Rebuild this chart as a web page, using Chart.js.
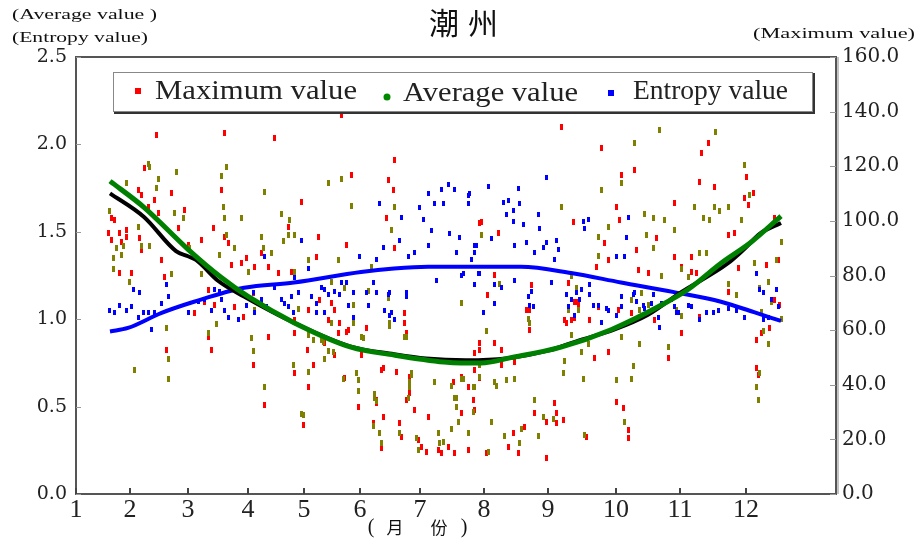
<!DOCTYPE html>
<html>
<head>
<meta charset="utf-8">
<title>潮州</title>
<script src="https://cdn.jsdelivr.net/npm/chart.js@4.4.0/dist/chart.umd.min.js"></script>
<style>
  html, body { margin: 0; padding: 0; background: #fff; }
  #wrap { width: 920px; height: 545px; }
</style>
</head>
<body>
<div id="wrap"><canvas id="chart" width="920" height="545"></canvas></div>
<script>
// x is a day index (0..380); ticks sit at the start of each month
const monthStarts = [0, 27, 56, 86, 114, 142, 172, 204, 236, 270, 302, 335];
const monthLabels = ['1', '2', '3', '4', '5', '6', '7', '8', '9', '10', '11', '12'];

// daily maximum (right axis)
const maxValue = [
  [16,95.6],[17.5,101.1],[17.5,93.0],[19,100.3],[21.5,95.6],[22.5,92.3],[25,96.7],[25,94.1],[31,111.3],[32.5,109.5],
  [34,119.4],[36,105.1],[39,107.7],[40,131.5],[41,102.9],[47.5,110.2],[42.5,85.7],[44,79.5],[27.5,80.9],[21.5,80.9],
  [32.5,89.4],[31.5,93.7],[56,91.2],[54,104.0],[51,97.4],[62.5,93.0],[68.5,97.4],[74,132.2],[72.5,111.3],[74,94.1],
  [76,91.9],[77.5,83.9],[82.5,84.6],[85,86.4],[89,83.1],[92.5,88.3],[96,83.1],[99,130.4],[106,97.8],[112.5,106.9],
  [66,74.7],[64,70.3],[59,66.3],[69,69.2],[79,68.5],[83.5,64.8],[88.5,73.6],[92.5,69.9],[96,57.5],[101,80.9],
  [107.5,81.3],[109,63.7],[116,67.4],[121,94.1],[120,86.8],[121.5,71.0],[126,63.7],[129,67.4],[131,59.0],[135,91.2],
  [137.5,116.8],[136,60.1],[145,60.8],[155,101.1],[156,115.0],[158.5,111.3],[159,122.3],[159,90.1],[164,66.3],[164,62.6],
  [201.5,99.2],[201.5,52.7],[109,44.3],[115.5,52.7],[116,39.2],[94,32.6],[88.5,47.2],[66,57.5],[67.5,52.7],[45,52.7],
  [141,31.9],[150,33.3],[165,34.4],[176,28.2],[192.5,42.8],[192.5,29.7],[153.5,46.1],[160,44.7],[134,42.5],[166.5,42.8],
  [109,59.0],[118.5,47.2],[113.5,25.3],[124,55.3],[127.5,69.9],[131.5,62.6],[135,59.3],[129,50.9],[142.5,50.9],[152.5,45.4],
  [153.5,28.2],[152.5,16.8],[150,34.4],[148.5,26.0],[161.5,26.0],[162.5,20.9],[165,59.0],[166.5,37.0],[169,30.8],[171,19.8],
  [172.5,17.2],[175,15.4],[181,16.1],[182.5,15.0],[186,17.2],[188.5,41.0],[189,15.0],[196,16.1],[198.5,34.4],[199,30.8],
  [201.5,42.5],[201.5,55.3],[199,51.6],[205,15.0],[205.5,72.9],[209,55.3],[212.5,52.7],[212.5,47.2],[216,17.2],[218.5,22.3],
  [221,15.0],[219,48.3],[224,24.5],[226.5,67.4],[226.5,60.1],[229,29.7],[235,26.4],[235,13.2],[239,33.3],[240,29.7],
  [240,26.0],[243.5,27.1],[245,62.6],[249,70.3],[251,69.2],[249,64.5],[255,20.9],[259,49.8],[261,68.5],[266,52.0],
  [270,33.7],[273.5,31.5],[276,23.4],[276,20.5],[296,49.8],[302.5,59.0],[311.5,64.8],[271,67.4],[277.5,66.3],
  [242.5,134.4],[262.5,126.7],[279,118.7],[272.5,116.8],[270,105.1],[299,106.6],[312.5,124.9],[316,128.5],[311.5,114.3],[319,112.4],
  [335,116.1],[334,108.4],[336,105.8],[338.5,110.2],[329,95.6],[326,94.8],[349,101.1],[351,85.7],[345,83.9],[331,82.8],
  [326,74.0],[299,86.8],[307.5,86.8],[302.5,83.1],[307.5,81.3],[310,80.9],[290,93.7],[286,80.9],[280,89.4],[281,82.0],
  [271.5,100.3],[266,85.7],[260,83.1],[264,91.9],[248.5,99.6],[246,77.3],[250,70.3],[247.5,63.7],[244,63.7],[256.5,63.7],
  [227.5,76.5],[225,67.4],[209,80.2],[202.5,99.6],[211,95.6],[289,63.7],[199,45.4],[196,39.2],[340,56.4],[342.5,59.0],
  [346.5,60.8],[349,71.0],[351.5,69.2],[340,46.1],[341,43.6],[132.5,138.8]
];

// daily average (left axis)
const avgValue = [
  [16.5,1.62],[25,1.78],[31,1.53],[23.5,1.42],[20,1.41],[18.5,1.29],[18.5,1.35],[22.5,1.37],[36,1.89],[36.5,1.87],
  [41,1.80],[40,1.75],[32.5,1.42],[36.5,1.42],[26.5,1.21],[47.5,1.26],[45,0.95],[46,0.77],[46,0.66],[29,0.71],
  [49,1.61],[50,1.84],[53.5,1.58],[56.5,1.41],[61,1.34],[62.5,1.26],[66,0.92],[70,0.97],[72.5,1.82],[75,1.87],
  [73.5,1.64],[74,1.58],[75,1.48],[82.5,1.58],[79,1.41],[71.5,1.37],[86,1.27],[94,1.73],[92.5,1.47],[93.5,1.41],
  [97.5,1.38],[102.5,1.60],[106.5,1.57],[106,1.48],[109,1.48],[103.5,1.45],[109,1.27],[116,1.34],[89,1.05],[87.5,0.89],
  [88.5,0.82],[94,0.61],[112.5,0.46],[116,0.91],[116,0.70],[122.5,0.88],[126,0.82],[124,0.77],[127.5,1.21],[127.5,0.98],
  [126,1.78],[132.5,1.80],[137.5,1.65],[131,1.34],[134,1.18],[140,0.69],[141,0.65],[141,0.59],[146,1.16],[143.5,0.89],
  [147.5,1.30],[159,1.64],[157.5,1.51],[156.5,0.96],[167.5,0.69],[166.5,0.64],[164,0.90],[187.5,0.62],[190,0.55],[179,0.64],
  [149,0.55],[192.5,0.66],[201.5,0.67],
  [111,1.06],[118.5,0.88],[108.5,0.74],[113.5,0.45],[123.5,0.87],[128.5,0.81],[138.5,1.08],[138.5,0.98],[142.5,0.90],[133.5,0.66],
  [149,0.57],[150,0.53],[151.5,0.35],[152.5,0.29],[148.5,0.39],[156.5,0.98],[156,1.12],[165,0.90],[167.5,0.68],[166.5,0.61],
  [166,0.55],[161.5,0.35],[170,0.32],[171,0.25],[181,0.35],[181.5,0.29],[183.5,0.30],[189,0.55],[190,0.50],[193.5,0.66],
  [198.5,0.61],[198.5,0.47],[196,0.35],[191,0.41],[187.5,0.37],[205,0.93],[201.5,0.74],[206,0.24],[207.5,0.41],[209,0.64],
  [214,0.33],[219,0.66],[221.5,0.29],[222.5,0.37],[226.5,0.98],[229,0.54],[233.5,0.44],[238.5,0.43],[231,0.33],[244,0.76],
  [243.5,0.69],[246,1.05],[247.5,0.91],[253.5,0.66],[252.5,0.81],[254,0.34],[256,0.86],[270,0.65],[274,0.41],[277.5,0.66],
  [278.5,0.73],[281.5,0.86],[272.5,0.90],[296,0.84],
  [279,2.01],[291.5,2.08],[272.5,1.78],[262.5,1.74],[242.5,1.64],[284,1.60],[288.5,1.58],[294,1.57],[299,1.51],[285,1.48],
  [309,1.64],[313.5,1.58],[316.5,1.57],[319,1.64],[321.5,1.62],[326,1.64],[332.5,1.57],[334,1.88],[336.5,1.71],[352.5,1.44],
  [350,1.34],[339,1.32],[341.5,1.18],[346,1.21],[326,1.20],[330,1.14],[302.5,1.29],[306,1.24],[311.5,1.38],[315,1.38],
  [261,1.36],[266,1.53],[261,1.47],[288.5,1.41],[292.5,1.25],[300,1.05],[302.5,1.02],[282.5,1.15],[281.5,1.05],[277.5,1.11],
  [286,1.08],[247.5,1.25],[250,1.18],[251,1.05],[226,1.00],[211.5,1.20],[202.5,1.48],[192.5,1.09],[215,0.65],[210,0.62],
  [199,0.61],[342.5,1.04],[343.5,0.93],[346,0.86],[352.5,1.00],[347.5,1.10],[340,0.61],[341,0.54],[341.5,0.69],[319.5,2.07]
];

// daily entropy (left axis)
const entropyValue = [
  [16.5,1.05],[19,1.04],[21.5,1.08],[25,1.05],[27.5,1.07],[31,1.01],[33.5,1.04],[36,1.04],[39,1.04],[28.5,1.17],
  [31.5,1.15],[37.5,0.94],[42.5,1.09],[45,1.20],[46,1.13],[56,1.04],[61,1.10],[64,1.11],[67.5,1.05],[69,1.17],
  [71.5,1.16],[72.5,1.11],[74,1.05],[76,1.01],[81,1.00],[85,1.08],[88.5,1.15],[89,1.04],[92.5,1.11],[95,1.07],
  [94,1.36],[99,1.18],[102.5,1.11],[106,1.07],[108.5,1.04],[109,1.24],[111,1.15],[112.5,1.45],[116,1.29],[122.5,1.18],
  [124,1.17],[126,1.14],[129,1.16],[132.5,1.21],[135,1.21],[138.5,1.15],[141.5,1.36],[145,1.15],[146,1.08],[148.5,1.21],
  [150,1.34],[150,1.15],[151.5,1.66],[153.5,1.41],[156.5,1.15],[154,1.05],[157.5,1.04],[159,1.00],[161.5,1.45],[162.5,1.58],
  [165,1.13],[166,1.36],[169,1.38],[171.5,1.64],[173.5,1.57],[176,1.72],[176,1.42],[177.5,1.51],[179,1.66],[180,1.22],
  [182.5,1.74],[183.5,1.66],[186,1.77],[186.5,1.49],[189,1.74],[190,1.38],[191.5,1.47],[192.5,1.25],[196,1.71],[199,1.42],
  [201,1.26],
  [107.5,1.13],[104,1.09],[117.5,1.13],[120,1.09],[120,1.04],[124,1.04],[131.5,1.14],[136,1.08],[138.5,1.01],[156,1.14],
  [156.5,1.02],[165,1.15],[203.5,1.04],[209,1.09],[226,1.13],[226.5,1.08],[245,1.14],[246,1.07],[249,1.02],[256.5,1.14],
  [258.5,1.08],[262.5,0.98],[265,1.06],[270,1.02],[272.5,1.13],[278.5,1.14],[284,1.06],[287.5,1.09],[291,1.01],[291.5,0.95],
  [297.5,1.11],[300,1.04],[306,1.08],[311.5,1.00],
  [196.5,1.72],[196,1.66],[206,1.76],[213.5,1.67],[216,1.68],[215,1.60],[218.5,1.62],[221,1.75],[221.5,1.66],[218.5,1.56],
  [223.5,1.54],[231,1.60],[231.5,1.52],[235,1.81],[200,1.42],[199,1.38],[207.5,1.46],[197.5,1.34],[193.5,1.26],[201.5,1.26],
  [219,1.42],[225,1.44],[233.5,1.41],[235,1.44],[240,1.45],[241,1.40],[229,1.38],[239,1.34],[253.5,1.56],[256,1.57],
  [254,1.52],[270,1.36],[274,1.36],[276,1.58],[275,1.47],[199,1.20],[209,1.20],[212.5,1.18],[219,1.22],[228.5,1.07],
  [227.5,1.16],[237.5,1.21],[247.5,1.11],[250,1.15],[251.5,1.11],[252.5,1.17],[256.5,1.20],[261,1.08],[266,1.05],[272.5,1.07],
  [279,1.15],[280,1.10],[283.5,1.08],[288.5,1.14],[292.5,1.09],[299,1.07],[301,1.04],[307.5,1.07],[315,1.04],[318.5,1.04],
  [321,1.05],[326,1.06],[330,1.05],[334,1.01],[340,1.26],[341.5,1.17],[343.5,1.15],[347.5,1.11],[350,1.17],[351,1.07],
  [346,1.01],[343.5,1.00]
];

// smoothed curves (left axis)
const avgFit = [
  [17,1.79],[34,1.64],[56,1.40],[72.5,1.24],[86,1.13],[109,0.98],[137.5,0.84],[159,0.795],[184,0.755],[192.5,0.75],
  [202.5,0.75],[217.5,0.78],[242.5,0.84],[267.5,0.94],[292.5,1.08],[306,1.17],[322.5,1.32],[337.5,1.44],[352.5,1.59]
];
const avgSmooth = [
  [17,1.72],[34,1.585],[50,1.39],[56,1.36],[60,1.34],[71,1.22],[84,1.13],[109,0.98],[137,0.845],[159,0.80],[175,0.775],
  [195,0.765],[215,0.775],[236,0.82],[252,0.88],[269,0.94],[286,1.025],[302,1.15],[326,1.32],[334,1.40],[342,1.49],[352.5,1.55]
];
const entropyCurve = [
  [17,0.93],[26,0.95],[42.5,1.035],[59,1.10],[84,1.18],[109,1.21],[142.5,1.27],[159,1.29],[176,1.30],[201,1.30],
  [222.5,1.30],[247.5,1.264],[272.5,1.21],[299,1.155],[322.5,1.10],[339,1.04],[352.5,0.99]
];

const toXY = arr => arr.map(([x, y]) => ({ x, y }));

// small filled rectangle used as point marker
function dash(color, w, h) {
  const c = document.createElement('canvas');
  c.width = w; c.height = h;
  const g = c.getContext('2d');
  g.fillStyle = color;
  g.fillRect(0, 0, w, h);
  return c;
}

function fitText(ctx, text, x, y, width) {
  const w = ctx.measureText(text).width;
  ctx.save();
  ctx.translate(x, y);
  ctx.scale(width / w, 1);
  ctx.fillText(text, 0, 0);
  ctx.restore();
}

const decor = {
  id: 'decor',
  afterDraw(chart) {
    const { ctx, chartArea: a, scales } = chart;
    ctx.save();

    // frame
    ctx.strokeStyle = '#555';
    ctx.lineWidth = 2;
    ctx.strokeRect(a.left, a.top, a.right - a.left, a.bottom - a.top);
    ctx.beginPath();
    ctx.moveTo(a.right + 2, a.top); ctx.lineTo(a.right + 2, a.bottom);
    ctx.lineWidth = 1;
    ctx.strokeStyle = '#888';
    ctx.stroke();

    // inward tick marks
    ctx.lineWidth = 1;
    ctx.strokeStyle = '#999';
    ctx.beginPath();
    scales.y.ticks.forEach(t => {
      const y = Math.round(scales.y.getPixelForValue(t.value)) + 0.5;
      ctx.moveTo(a.left, y); ctx.lineTo(a.left + 5, y);
    });
    scales.y1.ticks.forEach(t => {
      const y = Math.round(scales.y1.getPixelForValue(t.value)) + 0.5;
      ctx.moveTo(a.right - 6, y); ctx.lineTo(a.right, y);
    });
    ctx.stroke();
    ctx.strokeStyle = '#444';
    ctx.lineWidth = 2;
    ctx.beginPath();
    scales.x.ticks.forEach(t => {
      const x = Math.round(scales.x.getPixelForValue(t.value));
      ctx.moveTo(x, a.bottom); ctx.lineTo(x, a.bottom - 6);
    });
    ctx.stroke();

    // legend box
    ctx.fillStyle = '#fff';
    ctx.fillRect(113, 72, 700, 40);
    ctx.strokeStyle = '#333';
    ctx.lineWidth = 2;
    ctx.beginPath();
    ctx.moveTo(814, 73); ctx.lineTo(814, 113); ctx.lineTo(114, 113);
    ctx.stroke();
    ctx.strokeStyle = '#888';
    ctx.lineWidth = 1;
    ctx.strokeRect(113.5, 72.5, 699, 39);

    ctx.fillStyle = '#f00';
    ctx.fillRect(135, 88, 6, 6);
    ctx.fillStyle = '#080';
    ctx.beginPath(); ctx.arc(387, 97, 3.5, 0, Math.PI * 2); ctx.fill();
    ctx.fillStyle = '#00f';
    ctx.fillRect(608, 90, 6, 6);

    ctx.fillStyle = '#222';
    ctx.textAlign = 'left';
    ctx.textBaseline = 'middle';
    ctx.font = '28px "Liberation Serif"';
    fitText(ctx, 'Maximum value', 155, 92, 202);
    fitText(ctx, 'Average value', 403, 94, 175);
    fitText(ctx, 'Entropy value', 633, 92, 155);

    // axis captions
    ctx.fillStyle = '#111';
    ctx.font = '14px "Liberation Serif"';
    fitText(ctx, '(Average value )', 12, 15, 145);
    fitText(ctx, '(Entropy value)', 12, 38, 136);
    fitText(ctx, '(Maximum value)', 753, 34, 162);

    // title
    ctx.textAlign = 'center';
    ctx.font = '30px "Noto Sans CJK SC"';
    ctx.fillText('潮', 444, 23);
    ctx.fillText('州', 483, 23);

    // x caption
    ctx.font = '17px "Noto Sans CJK SC"';
    ctx.fillText('月', 395, 528);
    ctx.fillText('份', 439, 528);
    ctx.font = '20px "Liberation Serif"';
    ctx.fillText('(', 371, 528);
    ctx.fillText(')', 464, 528);

    ctx.restore();
  }
};

new Chart(document.getElementById('chart'), {
  type: 'scatter',
  data: {
    datasets: [
      {
        label: 'Average value',
        data: toXY(avgFit),
        yAxisID: 'y',
        showLine: true,
        borderColor: '#008000',
        borderWidth: 5,
        pointRadius: 0,
        cubicInterpolationMode: 'monotone',
        order: 0
      },
      {
        data: toXY(avgSmooth),
        yAxisID: 'y',
        showLine: true,
        borderColor: '#000',
        borderWidth: 4,
        pointRadius: 0,
        cubicInterpolationMode: 'monotone',
        order: 1
      },
      {
        data: toXY(entropyCurve),
        yAxisID: 'y',
        showLine: true,
        borderColor: '#0000ff',
        borderWidth: 4,
        pointRadius: 0,
        cubicInterpolationMode: 'monotone',
        order: 2
      },
      {
        label: 'Entropy value',
        data: toXY(entropyValue),
        yAxisID: 'y',
        pointStyle: dash('#0000ff', 3, 5),
        order: 3
      },
      {
        data: toXY(avgValue),
        yAxisID: 'y',
        pointStyle: dash('#808000', 3, 6),
        order: 4
      },
      {
        label: 'Maximum value',
        data: toXY(maxValue),
        yAxisID: 'y1',
        pointStyle: dash('#ff0000', 3, 6),
        order: 5
      }
    ]
  },
  options: {
    responsive: false,
    devicePixelRatio: 1,
    animation: false,
    events: [],
    layout: { padding: { top: 57, left: 0, right: 0, bottom: 0 } },
    plugins: {
      legend: { display: false },
      title: { display: false },
      tooltip: { enabled: false }
    },
    scales: {
      x: {
        type: 'linear',
        min: 0,
        max: 380,
        grid: { display: false, drawTicks: false },
        border: { display: false },
        afterBuildTicks: s => { s.ticks = monthStarts.map(v => ({ value: v })); },
        afterFit: s => { s.height = 51; },
        ticks: {
          autoSkip: false,
          maxRotation: 0,
          padding: 1,
          color: '#222',
          font: { family: '"Liberation Serif"', size: 26 },
          callback: (v, i) => monthLabels[i]
        }
      },
      y: {
        position: 'left',
        min: 0,
        max: 2.5,
        grid: { display: false, drawTicks: false },
        border: { display: false },
        afterFit: s => { s.width = 76; },
        ticks: {
          stepSize: 0.5,
          padding: 9,
          color: '#222',
          font: { family: '"DejaVu Serif"', size: 19 },
          callback: v => v.toFixed(1)
        }
      },
      y1: {
        position: 'right',
        min: 0,
        max: 160,
        grid: { display: false, drawTicks: false },
        border: { display: false },
        afterFit: s => { s.width = 84; },
        ticks: {
          stepSize: 20,
          padding: 6,
          color: '#222',
          font: { family: '"DejaVu Serif"', size: 20 },
          callback: v => v.toFixed(1)
        }
      }
    }
  },
  plugins: [decor]
});
</script>
</body>
</html>
